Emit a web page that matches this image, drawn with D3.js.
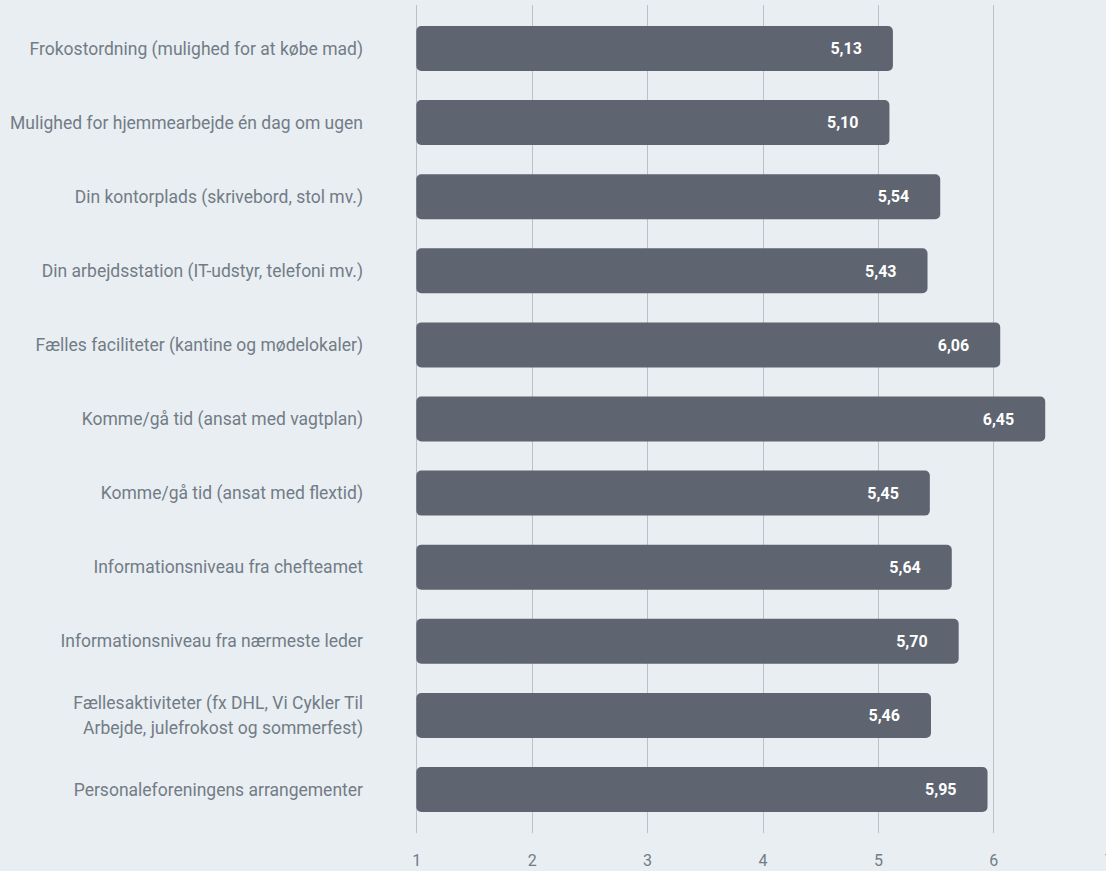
<!DOCTYPE html>
<html>
<head>
<meta charset="utf-8">
<script src="https://cdn.jsdelivr.net/npm/d3@7/dist/d3.min.js"></script>
<style>
  html, body { margin: 0; padding: 0; background: #e9eef2; }
  svg { display: block; }
</style>
</head>
<body>
<svg id="chart" width="1106" height="871"></svg>
<script>
const categories = [
  "Frokostordning (mulighed for at købe mad)",
  "Mulighed for hjemmearbejde én dag om ugen",
  "Din kontorplads (skrivebord, stol mv.)",
  "Din arbejdsstation (IT-udstyr, telefoni mv.)",
  "Fælles faciliteter (kantine og mødelokaler)",
  "Komme/gå tid (ansat med vagtplan)",
  "Komme/gå tid (ansat med flextid)",
  "Informationsniveau fra chefteamet",
  "Informationsniveau fra nærmeste leder",
  "Fællesaktiviteter (fx DHL, Vi Cykler Til\nArbejde, julefrokost og sommerfest)",
  "Personaleforeningens arrangementer"
];
const values = [5.13, 5.10, 5.54, 5.43, 6.06, 6.45, 5.45, 5.64, 5.70, 5.46, 5.95];
const tickValues = [1, 2, 3, 4, 5, 6, 7];

const svg = d3.select("#chart");

const x = d3.scaleLinear().domain([1, 7]).range([416.3, 1108.7]);
const y = d3.scaleBand().domain(categories).range([11.4, 826.6])
  .paddingInner(0.393).paddingOuter(0.1965);

const textColor = "#727c86";
const font = "Roboto, 'Open Sans', sans-serif";

// grid / axis
const axis = d3.axisBottom(x)
  .tickValues(tickValues)
  .tickFormat(d => d)
  .tickSize(-828)
  .tickPadding(21.5);

const gAxis = svg.append("g")
  .attr("transform", "translate(0,833)")
  .call(axis);
gAxis.select(".domain").remove();
gAxis.selectAll(".tick line")
  .attr("stroke", "#bac1c7")
  .attr("stroke-width", 1)
  .attr("shape-rendering", "crispEdges");
gAxis.selectAll(".tick text")
  .attr("fill", textColor)
  .style("font-family", font)
  .style("font-size", "16px");

// bars
svg.append("g").selectAll("rect")
  .data(categories)
  .join("rect")
  .attr("x", x(1))
  .attr("y", d => y(d))
  .attr("width", (d, i) => x(values[i]) - x(1))
  .attr("height", y.bandwidth())
  .attr("rx", 5)
  .attr("ry", 5)
  .attr("fill", "#5e6470");

// value labels
const fmt = v => v.toFixed(2).replace(".", ",");
svg.append("g").selectAll("text")
  .data(categories)
  .join("text")
  .attr("x", (d, i) => x(values[i]) - 31)
  .attr("y", d => y(d) + y.bandwidth() / 2)
  .attr("dy", "0.36em")
  .attr("text-anchor", "end")
  .attr("fill", "#ffffff")
  .style("font-family", font)
  .style("font-weight", "bold")
  .style("font-size", "16px")
  .text((d, i) => fmt(values[i]));

// category labels
const lab = svg.append("g").selectAll("text")
  .data(categories)
  .join("text")
  .attr("text-anchor", "end")
  .attr("fill", textColor)
  .style("font-family", font)
  .style("font-size", "17.5px");

lab.each(function(d) {
  const lines = d.split("\n");
  const t = d3.select(this);
  const cy = y(d) + y.bandwidth() / 2;
  const lh = 25;
  lines.forEach((ln, k) => {
    t.append("tspan")
      .attr("x", 363)
      .attr("y", cy + (k - (lines.length - 1) / 2) * lh)
      .attr("dy", "0.35em")
      .text(ln);
  });
});
</script>
</body>
</html>
